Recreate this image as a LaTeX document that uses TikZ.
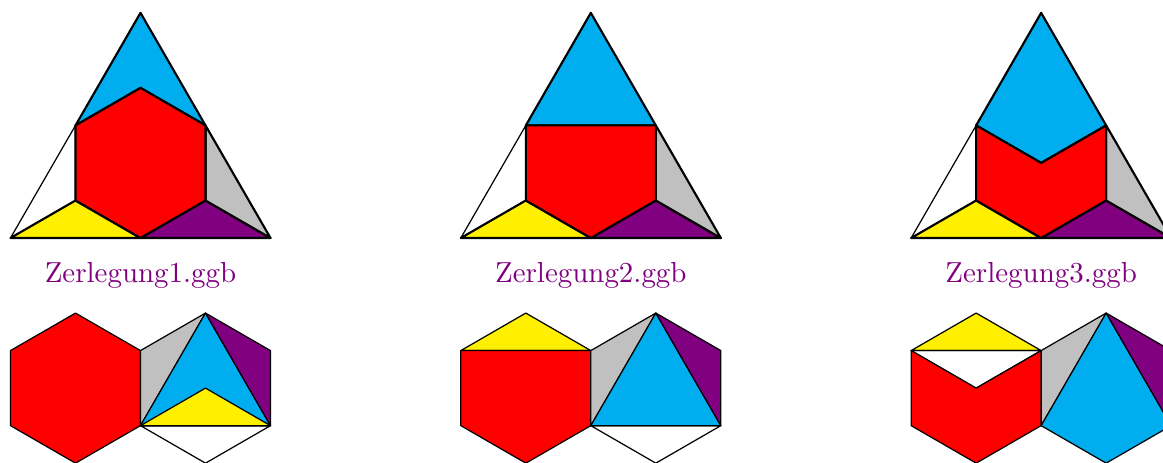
\documentclass[tikz,border=0pt]{standalone}

\definecolor{ggbblue}{RGB}{0,174,239}
\definecolor{ggbred}{RGB}{255,0,0}
\definecolor{ggbyellow}{RGB}{255,240,0}
\definecolor{ggbgray}{RGB}{192,192,192}
\definecolor{ggbpurple}{RGB}{128,0,128}

\tikzset{
  piece/.style={draw, line width=0.7pt, line join=round},
  slim/.style={draw, line width=0.4pt, line join=round},
  lab/.style={anchor=base, text=ggbpurple, inner sep=0pt, font=\fontsize{9.5}{11}\selectfont}
}

% corner points of one puzzle (triangle above, two hexagons below)
\newcommand{\mkpoints}{%
  \coordinate (A) at (0,0);
  \coordinate (B) at (3,0);
  \coordinate (C) at (1.5,2.598);
  \coordinate (Mab) at (1.5,0);
  \coordinate (Mbc) at (2.25,1.299);
  \coordinate (Mca) at (0.75,1.299);
  \coordinate (T) at (1.5,1.732);
  \coordinate (O) at (1.5,0.866);
  \coordinate (P1) at (0.75,0.433);
  \coordinate (P2) at (2.25,0.433);
  \coordinate (H1) at (0.75,-1.732);
  \coordinate (H2) at (2.25,-1.732);
  \coordinate (h1t) at (0.75,-0.866);
  \coordinate (h1ul) at (0,-1.299);
  \coordinate (h1ll) at (0,-2.165);
  \coordinate (h1b) at (0.75,-2.598);
  \coordinate (hm) at (1.5,-1.299);
  \coordinate (hn) at (1.5,-2.165);
  \coordinate (h2t) at (2.25,-0.866);
  \coordinate (h2ur) at (3,-1.299);
  \coordinate (h2lr) at (3,-2.165);
  \coordinate (h2b) at (2.25,-2.598);
}

\begin{document}
\begin{tikzpicture}
  \clip (-0.121,-2.585) rectangle (13.298,2.746);
  \useasboundingbox (-0.121,-2.585) rectangle (13.298,2.746);

  % Zerlegung 1
  \begin{scope}
    \mkpoints
    \draw[slim] (A) -- (Mca) -- (P1) -- cycle;
    \filldraw[piece, fill=ggbyellow] (A) -- (Mab) -- (P1) -- cycle;
    \filldraw[piece, fill=ggbpurple] (Mab) -- (B) -- (P2) -- cycle;
    \filldraw[piece, fill=ggbgray] (B) -- (Mbc) -- (P2) -- cycle;
    \filldraw[piece, fill=ggbblue] (Mca) -- (C) -- (Mbc) -- (T) -- cycle;
    \filldraw[piece, fill=ggbred] (Mca) -- (T) -- (Mbc) -- (P2) -- (Mab) -- (P1) -- cycle;
    \node[lab] (lab1) at (1.5,-0.511) {Zerlegung1.ggb};
    \filldraw[slim, fill=ggbred] (h1t) -- (hm) -- (hn) -- (h1b) -- (h1ll) -- (h1ul) -- cycle;
    \filldraw[slim, fill=ggbgray] (hm) -- (h2t) -- (hn) -- cycle;
    \filldraw[slim, fill=ggbblue] (hn) -- (h2t) -- (h2lr) -- cycle;
    \filldraw[slim, fill=ggbpurple] (h2t) -- (h2ur) -- (h2lr) -- cycle;
    \draw[slim] (hn) -- (h2lr) -- (h2b) -- cycle;
    \filldraw[slim, fill=ggbyellow] (hn) -- (H2) -- (h2lr) -- cycle;
  \end{scope}

  % Zerlegung 2
  \begin{scope}[shift={(5.196,0)}]
    \mkpoints
    \draw[slim] (A) -- (Mca) -- (P1) -- cycle;
    \filldraw[piece, fill=ggbyellow] (A) -- (Mab) -- (P1) -- cycle;
    \filldraw[piece, fill=ggbpurple] (Mab) -- (B) -- (P2) -- cycle;
    \filldraw[piece, fill=ggbgray] (B) -- (Mbc) -- (P2) -- cycle;
    \filldraw[piece, fill=ggbblue] (Mca) -- (C) -- (Mbc) -- cycle;
    \filldraw[piece, fill=ggbred] (Mca) -- (Mbc) -- (P2) -- (Mab) -- (P1) -- cycle;
    \node[lab] (lab2) at (1.5,-0.511) {Zerlegung2.ggb};
    \filldraw[slim, fill=ggbyellow] (h1ul) -- (h1t) -- (hm) -- cycle;
    \filldraw[slim, fill=ggbred] (h1ul) -- (hm) -- (hn) -- (h1b) -- (h1ll) -- cycle;
    \filldraw[slim, fill=ggbgray] (hm) -- (h2t) -- (hn) -- cycle;
    \filldraw[slim, fill=ggbblue] (hn) -- (h2t) -- (h2lr) -- cycle;
    \filldraw[slim, fill=ggbpurple] (h2t) -- (h2ur) -- (h2lr) -- cycle;
    \draw[slim] (hn) -- (h2lr) -- (h2b) -- cycle;
  \end{scope}

  % Zerlegung 3
  \begin{scope}[shift={(10.392,0)}]
    \mkpoints
    \draw[slim] (A) -- (Mca) -- (P1) -- cycle;
    \filldraw[piece, fill=ggbyellow] (A) -- (Mab) -- (P1) -- cycle;
    \filldraw[piece, fill=ggbpurple] (Mab) -- (B) -- (P2) -- cycle;
    \filldraw[piece, fill=ggbgray] (B) -- (Mbc) -- (P2) -- cycle;
    \filldraw[piece, fill=ggbblue] (Mca) -- (C) -- (Mbc) -- (O) -- cycle;
    \filldraw[piece, fill=ggbred] (Mca) -- (O) -- (Mbc) -- (P2) -- (Mab) -- (P1) -- cycle;
    \node[lab] (lab3) at (1.5,-0.511) {Zerlegung3.ggb};
    \filldraw[slim, fill=ggbyellow] (h1ul) -- (h1t) -- (hm) -- cycle;
    \draw[slim] (h1ul) -- (hm) -- (H1) -- cycle;
    \filldraw[slim, fill=ggbred] (h1ul) -- (H1) -- (hm) -- (hn) -- (h1b) -- (h1ll) -- cycle;
    \filldraw[slim, fill=ggbgray] (hm) -- (h2t) -- (hn) -- cycle;
    \filldraw[slim, fill=ggbblue] (hn) -- (h2t) -- (h2lr) -- (h2b) -- cycle;
    \filldraw[slim, fill=ggbpurple] (h2t) -- (h2ur) -- (h2lr) -- cycle;
  \end{scope}
\end{tikzpicture}
\end{document}
